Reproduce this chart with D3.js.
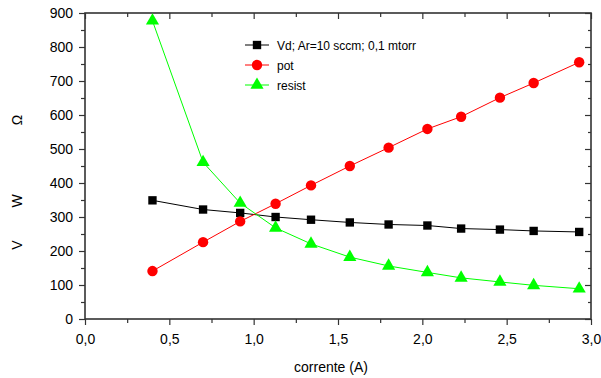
<!DOCTYPE html>
<meta charset="utf-8">
<script src="https://d3js.org/d3.v7.min.js"></script>
<style>
  body { margin: 0; background: #fff; }
  text { font-family: "Liberation Sans", Arial, sans-serif; fill: #000; }
</style>
<div id="my_dataviz"></div>
<script>
// Data
var corrente = [0.40, 0.70, 0.92, 1.13, 1.34, 1.57, 1.80, 2.03, 2.23, 2.46, 2.66, 2.93];
var vd     = [349, 322, 312, 300, 292, 284, 278, 275, 266, 263, 259, 256];
var pot    = [141, 226, 287, 339, 393, 450, 504, 559, 595, 651, 694, 755];
var resist = [877, 461, 341, 268, 221, 182, 156, 137, 121, 109, 99, 89];
var seriesNames = ["Vd; Ar=10 sccm; 0,1 mtorr", "pot", "resist"];
var xTicks = [0, 0.5, 1, 1.5, 2, 2.5, 3];
var yTicks = [0, 100, 200, 300, 400, 500, 600, 700, 800, 900];

var W = 601, H = 378;
var margin = {top: 13, right: 10, bottom: 59, left: 85};
var width = 591 - margin.left, height = 319 - margin.top;

var svg = d3.select("#my_dataviz").append("svg")
    .attr("width", W).attr("height", H);
var g = svg.append("g")
    .attr("transform", "translate(" + margin.left + "," + margin.top + ")");

var x = d3.scaleLinear().domain([0, 3]).range([0, width]);
var y = d3.scaleLinear().domain([0, 900]).range([height, 0]);

var fmt = function(d) { return d3.format(".1f")(d).replace(".", ","); };
var axisColor = "#333";

// bottom axis (ticks outward)
g.append("g").attr("transform", "translate(0," + height + ")")
  .call(d3.axisBottom(x).tickValues(d3.range(0.25, 3, 0.5)).tickSize(4).tickFormat(""));
g.append("g").attr("transform", "translate(0," + height + ")")
  .call(d3.axisBottom(x).tickValues(xTicks).tickSize(6).tickPadding(9).tickFormat(fmt));
// top axis (ticks inward)
g.append("g").call(d3.axisBottom(x).tickValues(xTicks).tickSize(6).tickFormat(""));
g.append("g").call(d3.axisBottom(x).tickValues(d3.range(0.25, 3, 0.5)).tickSize(4).tickFormat(""));
// left axis (ticks outward)
g.append("g").call(d3.axisLeft(y).tickValues(d3.range(50, 900, 100)).tickSize(4).tickFormat(""));
g.append("g").call(d3.axisLeft(y).tickValues(yTicks).tickSize(6).tickPadding(6).tickFormat(d3.format("d")));
// right axis (ticks inward)
g.append("g").attr("transform", "translate(" + width + ",0)")
  .call(d3.axisLeft(y).tickValues(yTicks).tickSize(6).tickFormat(""));
g.append("g").attr("transform", "translate(" + width + ",0)")
  .call(d3.axisLeft(y).tickValues(d3.range(50, 900, 100)).tickSize(3).tickFormat(""));

g.selectAll(".domain").remove();
g.selectAll(".tick line").attr("stroke", axisColor).attr("stroke-width", 1.2);
g.selectAll(".tick text").style("font-size", "14px").attr("fill", "#000")
  .style("font-family", "Liberation Sans, Arial, sans-serif");

// frame
g.append("rect").attr("x", 0).attr("y", 0).attr("width", width).attr("height", height)
  .attr("fill", "none").attr("stroke", axisColor).attr("stroke-width", 1.6);

// series
var series = [
  {vals: vd, color: "#000000", shape: d3.symbolSquare, size: 70},
  {vals: pot, color: "#ff0000", shape: d3.symbolCircle, size: 85},
  {vals: resist, color: "#00ff00", shape: d3.symbolTriangle, size: 75}
];
var line = d3.line().x(function(d) { return x(d[0]); }).y(function(d) { return y(d[1]); });

series.forEach(function(s) {
  var pts = corrente.map(function(c, i) { return [c, s.vals[i]]; });
  g.append("path").datum(pts).attr("d", line)
    .attr("fill", "none").attr("stroke", s.color).attr("stroke-width", 1);
  g.selectAll(null).data(pts).enter().append("path")
    .attr("d", d3.symbol().type(s.shape).size(s.size))
    .attr("transform", function(d) { return "translate(" + x(d[0]) + "," + y(d[1]) + ")"; })
    .attr("fill", s.color);
});

// legend
var leg = svg.append("g");
series.forEach(function(s, i) {
  var ly = 45 + i * 20;
  leg.append("line").attr("x1", 245).attr("x2", 269).attr("y1", ly).attr("y2", ly)
    .attr("stroke", s.color).attr("stroke-width", 1);
  leg.append("path").attr("d", d3.symbol().type(s.shape).size(s.size))
    .attr("transform", "translate(257," + ly + ")").attr("fill", s.color);
  leg.append("text").attr("x", 277).attr("y", ly + 4.5)
    .style("font-size", "12px").text(seriesNames[i]);
});

// axis titles
svg.append("text").attr("x", 331).attr("y", 372).attr("text-anchor", "middle")
  .style("font-size", "14px").text("corrente (A)");
[["Ω", 120], ["W", 201], ["V", 245]].forEach(function(t) {
  svg.append("text").attr("transform", "translate(22," + t[1] + ")rotate(-90)")
    .attr("text-anchor", "middle").style("font-size", "14px").text(t[0]);
});
</script>
